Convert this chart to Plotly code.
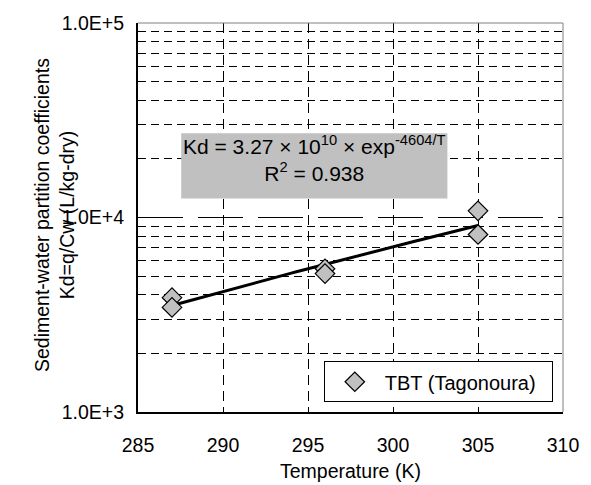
import numpy as np
import plotly.graph_objects as go

# ---- data ----
temperature = [287, 287, 296, 296, 305, 305]
kd_values = [3870, 3450, 5450, 5150, 10820, 8180]
series_name = "TBT (Tagonoura)"

# fitted model from chart annotation: Kd = A * exp(-B/T)
fit_A = 3.27e10
fit_B = 4604
fit_r2 = 0.938
fit_T_range = [287, 305]

x_ticks = [285, 290, 295, 300, 305, 310]
x_grid = [290, 295, 300, 305]
y_ticks = [1e3, 1e4, 1e5]
y_ticktext = ["1.0E+3", "1.0E+4", "1.0E+5"]
y_minor = [m * 10 ** e for e in (3, 4) for m in range(2, 10)]

FONT = "Arial, Liberation Sans, sans-serif"
FS = 19.5

fit_T = np.linspace(fit_T_range[0], fit_T_range[1], 60)
fit_K = fit_A * np.exp(-fit_B / fit_T)

fig = go.Figure()
fig.add_trace(go.Scatter(
    x=fit_T, y=fit_K, mode="lines",
    line=dict(color="black", width=3),
    showlegend=False, hoverinfo="skip"))
fig.add_trace(go.Scatter(
    x=temperature, y=kd_values, mode="markers",
    name=series_name + "\u00a0\u00a0",
    marker=dict(symbol="diamond", size=15, color="#c0c0c0",
                line=dict(color="black", width=1.2))))
# invisible trace carrying the 1.0E+4 major gridline on an overlay axis
fig.add_trace(go.Scatter(x=[None], y=[None], yaxis="y2", showlegend=False))

fig.update_layout(
    width=591, height=485,
    margin=dict(l=137.5, r=16, t=18.5, b=73),
    paper_bgcolor="white", plot_bgcolor="white",
    font=dict(family=FONT, size=FS, color="black"),
    showlegend=True,
    legend=dict(x=0.976, xanchor="right", y=0.025, yanchor="bottom",
                bgcolor="white", bordercolor="black", borderwidth=1,
                font=dict(size=20), itemwidth=50),
    xaxis=dict(range=[285, 310], tickvals=x_ticks, ticks="",
               showgrid=False, zeroline=False,
               showline=True, linecolor="black", linewidth=2,
               ticklabelstandoff=15, ticklabeloverflow="allow",
               minor=dict(tickvals=x_grid, ticks="inside", ticklen=5,
                          tickcolor="black", showgrid=True,
                          gridcolor="black", gridwidth=1,
                          griddash="10px,6px")),
    yaxis=dict(type="log", range=[3, 5], tickvals=y_ticks,
               ticktext=y_ticktext, ticks="", showgrid=False,
               zeroline=False, showline=True, linecolor="black",
               linewidth=2, ticklabelstandoff=8, ticklabeloverflow="allow",
               minor=dict(tickvals=y_minor, ticks="inside", ticklen=5,
                          tickcolor="black", showgrid=True,
                          gridcolor="black", gridwidth=1,
                          griddash="8px,5px")),
    yaxis2=dict(type="log", range=[3, 5], overlaying="y",
                tickvals=[1e4], showticklabels=False, ticks="",
                showgrid=True, gridcolor="black", gridwidth=1,
                griddash="45px,15px", showline=False, zeroline=False),
    shapes=[
        dict(type="line", xref="paper", yref="paper", x0=0, x1=1, y0=1, y1=1,
             line=dict(color="#808080", width=1), layer="above"),
        dict(type="line", xref="paper", yref="paper", x0=1, x1=1, y0=0, y1=1,
             line=dict(color="#808080", width=1), layer="above"),
        # grey box behind the fit equation
        dict(type="rect", xref="paper", yref="paper",
             x0=0.1017, x1=0.728, y0=0.549, y1=0.7167,
             fillcolor="#c0c0c0", line=dict(width=0), layer="above"),
    ],
    annotations=[
        dict(xref="paper", yref="paper", x=0.415, y=0.652,
             xanchor="center", yanchor="middle", showarrow=False,
             text=(f"Kd = {fit_A/1e10:.2f} × 10<sup>10</sup> × exp<sup>-{fit_B}/T</sup>"
                   f"<br>R<sup>2</sup> = {fit_r2:.3f}"),
             font=dict(size=21)),
        dict(xref="paper", yref="paper", x=-0.198, y=0.506,
             xanchor="center", yanchor="middle", showarrow=False,
             textangle=-90,
             text="Sediment-water partition coefficients<br>Kd=q/Cw (L/kg-dry)",
             font=dict(size=FS)),
        dict(xref="paper", yref="paper", x=0.5, y=-0.152,
             xanchor="center", yanchor="middle", showarrow=False,
             text="Temperature (K)", font=dict(size=FS)),
    ],
)

fig.write_html(
    "out.html",
    config={"displayModeBar": False},
    post_script="document.body.style.margin='0px';"
                "document.body.style.overflow='hidden';")
